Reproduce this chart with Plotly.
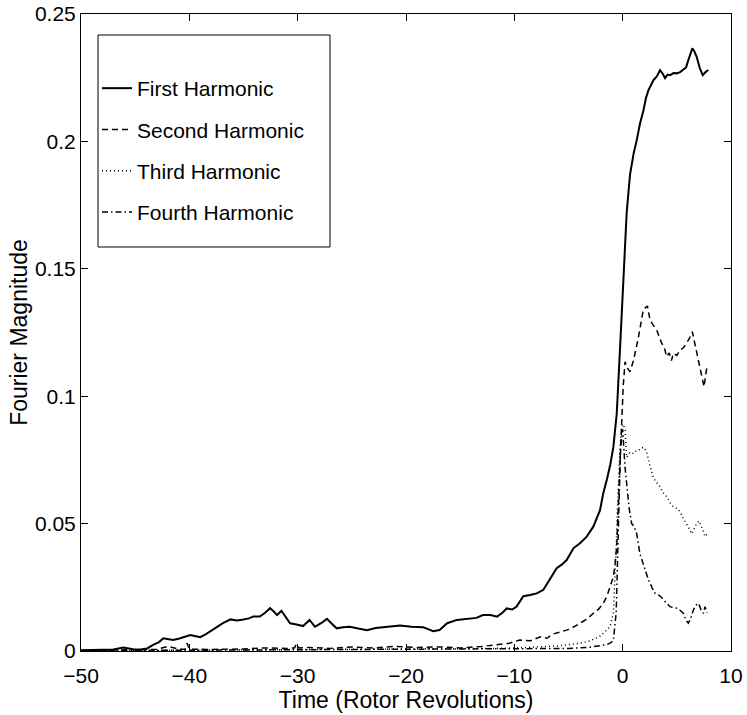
import plotly.graph_objects as go

# ---- data (time in rotor revolutions, Fourier magnitude) ----
FIRST_HARMONIC = [
    (-50, 0.0003), (-48.5, 0.0004), (-47, 0.0006), (-46.1, 0.0014), (-45.2, 0.0007),
    (-44.5, 0.0006), (-43.9, 0.0010), (-43.3, 0.0025), (-42.8, 0.0035), (-42.4, 0.0050),
    (-41.9, 0.0045), (-41.5, 0.0043), (-41.0, 0.0048), (-40.6, 0.0054), (-39.9, 0.0063),
    (-39.4, 0.0058), (-39.0, 0.0054), (-38.5, 0.0065), (-38.1, 0.0076), (-37.5, 0.0090),
    (-36.9, 0.0109), (-36.2, 0.0124), (-35.6, 0.0120), (-35.0, 0.0124), (-34.5, 0.0128),
    (-34.1, 0.0135), (-33.5, 0.0135), (-33.0, 0.0150), (-32.55, 0.0168), (-32.2, 0.0155),
    (-31.9, 0.0141), (-31.5, 0.0158), (-31.1, 0.0135), (-30.7, 0.0109), (-30.1, 0.0104),
    (-29.5, 0.0098), (-28.9, 0.0122), (-28.4, 0.0095), (-27.8, 0.0110), (-27.3, 0.0126),
    (-26.8, 0.0105), (-26.4, 0.0089), (-25.8, 0.0093), (-25.2, 0.0095), (-24.4, 0.0088),
    (-23.6, 0.0082), (-22.8, 0.0090), (-22.1, 0.0093), (-21.3, 0.0096), (-20.55, 0.0100),
    (-19.5, 0.0095), (-18.4, 0.0093), (-17.9, 0.0085), (-17.5, 0.0078), (-16.9, 0.0082),
    (-16.2, 0.0109), (-15.3, 0.0122), (-14.6, 0.0125), (-14.1, 0.0128), (-13.5, 0.0130),
    (-12.9, 0.0141), (-12.2, 0.0141), (-11.6, 0.0135), (-11.1, 0.0150), (-10.7, 0.0167),
    (-10.2, 0.0163), (-9.8, 0.0174), (-9.17, 0.0215), (-8.55, 0.0220), (-7.93, 0.0226),
    (-7.32, 0.0240), (-6.7, 0.0285), (-6.09, 0.0325), (-5.6, 0.0340), (-5.17, 0.0357),
    (-4.55, 0.0403), (-3.94, 0.0423), (-3.32, 0.0449), (-2.71, 0.0488), (-2.09, 0.0553),
    (-1.79, 0.0619), (-1.47, 0.0671), (-1.15, 0.0730), (-0.86, 0.0800), (-0.55, 0.0930),
    (-0.24, 0.1190), (0.06, 0.1480), (0.37, 0.1720), (0.68, 0.1870), (1.0, 0.1950),
    (1.3, 0.2005), (1.6, 0.2070), (1.91, 0.2120), (2.15, 0.2170), (2.37, 0.2200),
    (2.6, 0.2220), (2.83, 0.2240), (3.15, 0.2255), (3.45, 0.2280), (3.7, 0.2265),
    (3.91, 0.2248), (4.15, 0.2262), (4.37, 0.2260), (4.7, 0.2268), (4.99, 0.2267),
    (5.3, 0.2272), (5.6, 0.2280), (5.85, 0.2290), (6.06, 0.2319), (6.25, 0.2345),
    (6.43, 0.2365), (6.6, 0.2355), (6.83, 0.2332), (7.1, 0.2290), (7.39, 0.2260),
    (7.65, 0.2272), (7.9, 0.2280),
]

SECOND_HARMONIC = [
    (-50, 0.0002), (-45, 0.0003), (-43, 0.0006), (-42, 0.0018), (-41, 0.0008),
    (-40.4, 0.0006), (-40.2, 0.0030), (-40.0, 0.0007), (-38, 0.0006), (-35, 0.0008),
    (-33, 0.0012), (-31, 0.0010), (-30.3, 0.0012), (-30.1, 0.0028), (-29.9, 0.0012),
    (-29, 0.0014), (-27, 0.0010), (-25, 0.0016), (-23, 0.0012), (-21, 0.0018),
    (-19, 0.0014), (-17, 0.0016), (-15, 0.0012), (-13, 0.0018), (-11.6, 0.0024),
    (-10.5, 0.0030), (-9.5, 0.0043), (-8.5, 0.0040), (-7.6, 0.0056), (-7.0, 0.0050),
    (-6.4, 0.0067), (-5.8, 0.0075), (-5.17, 0.0082), (-4.5, 0.0095), (-3.94, 0.0109),
    (-3.3, 0.0125), (-2.71, 0.0148), (-2.2, 0.0165), (-1.79, 0.0187), (-1.45, 0.0215),
    (-1.17, 0.0252), (-0.86, 0.0290), (-0.71, 0.0340), (-0.55, 0.0410), (-0.4, 0.0570),
    (-0.24, 0.0740), (-0.09, 0.0920), (0.05, 0.1040), (0.22, 0.1135), (0.45, 0.1110),
    (0.68, 0.1096), (1.0, 0.1140), (1.45, 0.1230), (1.91, 0.1340), (2.28, 0.1354),
    (2.52, 0.1300), (2.8, 0.1280), (3.14, 0.1260), (3.4, 0.1230), (3.6, 0.1208),
    (3.85, 0.1190), (4.06, 0.1155), (4.3, 0.1170), (4.5, 0.1140), (4.68, 0.1168),
    (5.0, 0.1160), (5.29, 0.1180), (5.6, 0.1190), (5.9, 0.1208), (6.2, 0.1230),
    (6.43, 0.1253), (6.6, 0.1220), (6.83, 0.1180), (7.05, 0.1130), (7.3, 0.1090),
    (7.51, 0.1037), (7.65, 0.1080), (7.76, 0.1110),
]

THIRD_HARMONIC = [
    (-50, 0.0001), (-45, 0.0002), (-40, 0.0003), (-35, 0.0004), (-30, 0.0005),
    (-25, 0.0006), (-20, 0.0007), (-15, 0.0008), (-12, 0.0010), (-10, 0.0012),
    (-8, 0.0015), (-6, 0.0020), (-5, 0.0025), (-4, 0.0030), (-3, 0.0040),
    (-2.5, 0.0050), (-2.0, 0.0060), (-1.79, 0.0070), (-1.5, 0.0080), (-1.17, 0.0095),
    (-0.86, 0.0148), (-0.71, 0.0280), (-0.6, 0.0400), (-0.5, 0.0540), (-0.35, 0.0700),
    (-0.24, 0.0800), (-0.09, 0.0880), (0.05, 0.0890), (0.22, 0.0867), (0.37, 0.0760),
    (0.68, 0.0780), (1.0, 0.0775), (1.3, 0.0789), (1.6, 0.0790), (1.91, 0.0800),
    (2.22, 0.0780), (2.5, 0.0730), (2.83, 0.0680), (3.15, 0.0660), (3.45, 0.0645),
    (3.75, 0.0620), (4.06, 0.0606), (4.4, 0.0580), (4.68, 0.0566), (5.0, 0.0560),
    (5.29, 0.0547), (5.6, 0.0520), (5.9, 0.0500), (6.15, 0.0480), (6.37, 0.0460),
    (6.6, 0.0480), (6.83, 0.0500), (7.05, 0.0510), (7.3, 0.0488), (7.45, 0.0470),
    (7.6, 0.0449), (7.8, 0.0460),
]

FOURTH_HARMONIC = [
    (-50, 0.0001), (-45, 0.0002), (-40, 0.0002), (-35, 0.0003), (-30, 0.0004),
    (-25, 0.0005), (-20, 0.0005), (-15, 0.0006), (-10, 0.0008), (-7, 0.0009),
    (-5, 0.0010), (-3, 0.0015), (-2.0, 0.0020), (-1.5, 0.0025), (-1.2, 0.0030),
    (-0.86, 0.0040), (-0.6, 0.0150), (-0.5, 0.0340), (-0.4, 0.0480), (-0.3, 0.0600),
    (-0.2, 0.0800), (0.0, 0.0870), (0.22, 0.0720), (0.43, 0.0630), (0.6, 0.0560),
    (0.83, 0.0500), (1.05, 0.0490), (1.3, 0.0460), (1.45, 0.0420), (1.6, 0.0380),
    (1.91, 0.0340), (2.15, 0.0310), (2.37, 0.0280), (2.7, 0.0250), (2.99, 0.0226),
    (3.3, 0.0220), (3.6, 0.0210), (4.0, 0.0190), (4.37, 0.0174), (4.7, 0.0170),
    (4.99, 0.0168), (5.3, 0.0160), (5.6, 0.0148), (5.85, 0.0120), (6.06, 0.0109),
    (6.3, 0.0130), (6.52, 0.0160), (6.75, 0.0180), (7.0, 0.0187), (7.25, 0.0160),
    (7.45, 0.0148), (7.6, 0.0174), (7.8, 0.0150),
]

SERIES_NAMES = ["First Harmonic", "Second Harmonic", "Third Harmonic", "Fourth Harmonic"]
X_TICKS = [-50, -40, -30, -20, -10, 0, 10]
X_TICK_TEXT = ["\u221250", "\u221240", "\u221230", "\u221220", "\u221210", "0", "10"]
Y_TICKS = [0, 0.05, 0.1, 0.15, 0.2, 0.25]
Y_TICK_TEXT = ["0", "0.05", "0.1", "0.15", "0.2", "0.25"]

FONT = "Liberation Sans, Arial, Helvetica, sans-serif"

styles = [
    dict(width=2.0, dash="solid"),
    dict(width=1.5, dash="6px,4px"),
    dict(width=1.5, dash="1px,3px"),
    dict(width=1.5, dash="6px,3px,1.5px,3px"),
]

fig = go.Figure()
for name, data, st in zip(SERIES_NAMES,
                          [FIRST_HARMONIC, SECOND_HARMONIC, THIRD_HARMONIC, FOURTH_HARMONIC],
                          styles):
    xs = [p[0] for p in data]
    ys = [p[1] for p in data]
    fig.add_trace(go.Scatter(
        x=xs, y=ys, mode="lines", name=name, legendgroup=name,
        line=dict(color="black", width=st["width"], dash=st["dash"]),
    ))

# The page body margin is removed by the post script below, so the figure sits at (0, 0).
W, H = 747, 715
# plot area in window pixels: x 81..731, y 14..651
L, R, T, B = 81, W - 731, 14, H - 651
pw, ph = W - L - R, H - T - B

def px_x(p):  # window pixel -> paper x
    return (p - L) / pw

def px_y(p):  # window pixel -> paper y
    return 1 - (p - T) / ph

axis_common = dict(
    showline=True, linecolor="black", linewidth=1, mirror="ticks",
    ticks="inside", ticklen=7, tickcolor="black", tickwidth=1,
    showgrid=False, zeroline=False, automargin=False,
    ticklabeloverflow="allow",
    tickfont=dict(family=FONT, size=21, color="black"),
)

fig.update_layout(
    width=W, height=H,
    margin=dict(l=L, r=R, t=T, b=B, autoexpand=False),
    paper_bgcolor="white", plot_bgcolor="white",
    font=dict(family=FONT, size=21, color="black"),
    xaxis=dict(range=[-50, 10], tickvals=X_TICKS, ticktext=X_TICK_TEXT,
               ticklabelstandoff=6,
               title=dict(text="Time (Rotor Revolutions)", standoff=3,
                          font=dict(family=FONT, size=23, color="black")),
               **axis_common),
    yaxis=dict(range=[0, 0.25], tickvals=Y_TICKS, ticktext=Y_TICK_TEXT,
               title=dict(text="Fourier Magnitude", standoff=0,
                          font=dict(family=FONT, size=23, color="black")),
               **axis_common),
    legend=dict(
        x=px_x(97), y=px_y(68), xanchor="left", yanchor="top",
        bgcolor="rgba(0,0,0,0)", borderwidth=0,
        font=dict(family=FONT, size=21, color="black"),
        tracegroupgap=11, traceorder="grouped",
    ),
    shapes=[dict(type="rect", xref="paper", yref="paper",
                 x0=px_x(98), x1=px_x(330), y0=px_y(247), y1=px_y(35),
                 line=dict(color="black", width=1), fillcolor="rgba(0,0,0,0)")],
    showlegend=True,
)

fig.write_html("out.html", config={"displayModeBar": False},
               post_script="document.body.style.margin='0px';")
